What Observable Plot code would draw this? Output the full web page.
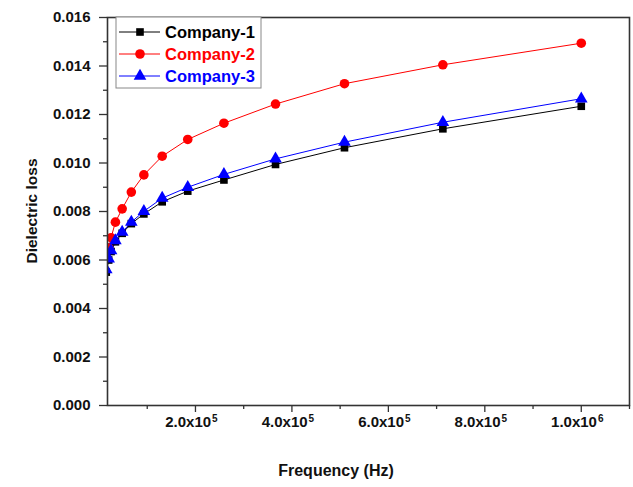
<!DOCTYPE html>
<html><head><meta charset="utf-8">
<script src="https://cdn.jsdelivr.net/npm/d3@7"></script>
<script src="https://cdn.jsdelivr.net/npm/@observablehq/plot@0.6"></script>
<style>
body{margin:0;background:#fff;}
#chart{width:633px;height:487px;}
</style></head><body><div id="chart"></div>
<script>
const frequency = [15000, 20000, 25000, 34000, 48000, 67000, 93000, 131000, 184000, 259000, 366000, 509000, 713000, 1000000];
const company1 = [0.0055, 0.0060, 0.00635, 0.00675, 0.0071, 0.0075, 0.0079, 0.0084, 0.00884, 0.0093, 0.00994, 0.01063, 0.01141, 0.01234];
const company2 = [0.0061, 0.0065, 0.00692, 0.00756, 0.00811, 0.0088, 0.00951, 0.01028, 0.01097, 0.01164, 0.01243, 0.01327, 0.01405, 0.01494];
const company3 = [0.0056, 0.00605, 0.00639, 0.0068, 0.00715, 0.00756, 0.00801, 0.00855, 0.0090, 0.00953, 0.01017, 0.01086, 0.01168, 0.01265];
const seriesNames = ["Company-1", "Company-2", "Company-3"];
const seriesColors = ["#000000", "#ff0000", "#0000ff"];
const seriesSymbols = ["square", "circle", "triangle"];
const xMajorTicks = [200000, 400000, 600000, 800000, 1000000];
const xTickBases = ["2.0x10", "4.0x10", "6.0x10", "8.0x10", "1.0x10"];
const xTickExponents = ["5", "5", "5", "5", "6"];
const xMinorTicks = [100000, 300000, 500000, 700000, 900000, 1100000];
const yMajorTicks = [0, 0.002, 0.004, 0.006, 0.008, 0.010, 0.012, 0.014, 0.016];
const yTickLabels = ["0.000", "0.002", "0.004", "0.006", "0.008", "0.010", "0.012", "0.014", "0.016"];
const yMinorTicks = [0.001, 0.003, 0.005, 0.007, 0.009, 0.011, 0.013, 0.015];
const xTitle = "Frequency (Hz)";
const yTitle = "Dielectric loss";

const symbolRadius = {square: 4.3, circle: 4.8, triangle: 4.7};
const seriesValues = [company1, company2, company3];
const series = seriesValues.map((vals, i) => vals.map((v, j) => ({f: frequency[j], v, s: seriesNames[i]})));

const marks = [];
series.forEach((data, i) => {
  marks.push(Plot.line(data, {x: "f", y: "v", stroke: seriesColors[i], strokeWidth: 1, clip: true}));
});
series.forEach((data, i) => {
  marks.push(Plot.dot(data, {x: "f", y: "v", symbol: seriesSymbols[i], fill: seriesColors[i], stroke: "none", r: symbolRadius[seriesSymbols[i]], clip: true}));
});

const chart = Plot.plot({
  width: 633,
  height: 487,
  marginLeft: 107,
  marginRight: 4,
  marginTop: 17,
  marginBottom: 82,
  style: {fontFamily: "'Liberation Sans', Arial, sans-serif", fontWeight: "bold", fontSize: "15px", color: "#111", background: "#fff"},
  x: {domain: [17600, 1100000], label: null},
  y: {domain: [0, 0.016], label: null},
  marks: [
    Plot.axisY(yMinorTicks, {tickSize: 4, tickFormat: () => "", strokeWidth: 1.3, stroke: "#333"}),
    Plot.axisY(yMajorTicks, {tickSize: 8, tickPadding: 9, tickFormat: (d, i) => yTickLabels[i], strokeWidth: 1.3, stroke: "#333", fill: "#111", fontSize: 15}),
    Plot.axisX(xMinorTicks, {tickSize: 4, tickFormat: () => "", strokeWidth: 1.3, stroke: "#333"}),
    Plot.axisX(xMajorTicks, {tickSize: 7, tickPadding: 4, tickFormat: (d, i) => xTickBases[i] + "^" + xTickExponents[i], strokeWidth: 1.3, stroke: "#333", fill: "#111", fontSize: 15}),
    ...marks,
    Plot.frame({stroke: "#333", strokeWidth: 1.6})
  ]
});

const svg = d3.select(chart);
// turn "a^b" tick texts into base + raised exponent
svg.selectAll("text").each(function() {
  const t = this.textContent;
  const m = /^(.*)\^(\d)$/.exec(t);
  if (!m) return;
  const el = d3.select(this);
  el.text(null);
  el.append("tspan").attr("dx", -4).text(m[1]);
  el.append("tspan").attr("dy", "-0.55em").attr("dx", 1).style("font-size", "10px").text(m[2]);
});

svg.append("text").attr("x", 336).attr("y", 476).attr("text-anchor", "middle")
  .style("font-size", "16px").style("font-weight", "bold").attr("fill", "#111").text(xTitle);
svg.append("text").attr("transform", "translate(37,211) rotate(-90)").attr("text-anchor", "middle")
  .style("font-size", "15.5px").style("font-weight", "bold").attr("fill", "#111").text(yTitle);

const lg = svg.append("g");
lg.append("rect").attr("x", 116).attr("y", 17).attr("width", 145).attr("height", 71)
  .attr("fill", "#fff").attr("stroke", "#888").attr("stroke-width", 1);
const rowsY = [32, 54, 76];
const symMap = {square: d3.symbolSquare, circle: d3.symbolCircle, triangle: d3.symbolTriangle};
seriesNames.forEach((name, i) => {
  const y = rowsY[i];
  lg.append("line").attr("x1", 119).attr("x2", 160).attr("y1", y).attr("y2", y)
    .attr("stroke", seriesColors[i]).attr("stroke-width", 1);
  const r = symbolRadius[seriesSymbols[i]];
  lg.append("path").attr("transform", `translate(140,${y})`)
    .attr("d", d3.symbol(symMap[seriesSymbols[i]], Math.PI * r * r)())
    .attr("fill", seriesColors[i]);
  lg.append("text").attr("x", 165).attr("y", y).attr("dy", "0.35em").attr("text-anchor", "start")
    .style("font-size", "16.5px").style("font-weight", "bold").attr("fill", seriesColors[i]).text(name);
});

document.getElementById("chart").appendChild(chart);
</script>
</body></html>
